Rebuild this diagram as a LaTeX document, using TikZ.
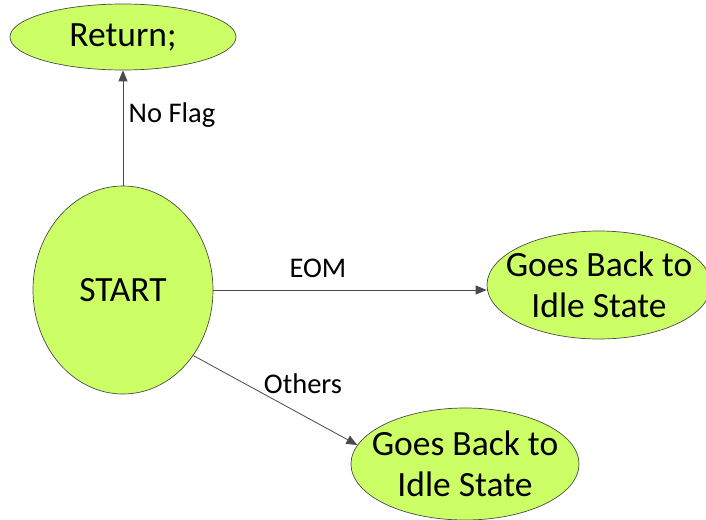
\documentclass[tikz,border=0pt]{standalone}
\usepackage{fontspec}
\setmainfont{Carlito}
\usetikzlibrary{shapes.geometric,arrows.meta}
\definecolor{statefill}{HTML}{CCFF66}
\definecolor{edgegray}{HTML}{4A4A4A}
\tikzset{
  state/.style={ellipse, draw=edgegray, line width=0.7pt, fill=statefill,
    inner sep=0pt},
  statetext/.style={align=center, inner sep=0pt,
    font=\fontsize{35.5}{41}\selectfont},
  link/.style={draw=edgegray, line width=0.8pt,
    -{Triangle[length=11pt,width=9pt]}},
  tag/.style={font=\fontsize{28.5}{32}\selectfont, inner sep=0pt}
}
\begin{document}
\begin{tikzpicture}[x=1pt,y=-1pt]
  \useasboundingbox (0,0) rectangle (706,519);
  % states: fixed-size ellipses, text set in the centre
  \node[state, minimum width=226pt, minimum height=66pt,
        label={[statetext]center:Return;}] (ret) at (123,37) {};
  \node[state, minimum width=180pt, minimum height=208pt,
        label={[statetext]center:START}] (start) at (123,290) {};
  \node[state, minimum width=224pt, minimum height=108pt,
        label={[statetext]center:Goes Back to\\Idle State}] (idleA) at (599,285) {};
  \node[state, minimum width=228pt, minimum height=112pt,
        label={[statetext]center:Goes Back to\\Idle State}] (idleB) at (465,464) {};
  % transitions
  \draw[link] (start.north) -- (ret.south);
  \draw[link] (start.east) -- (start.east -| idleA.west);
  \draw[link] (start.-43.7) -- (idleB.170);
  % transition labels
  \node[tag] (nf) at (172,115) {No Flag};
  \node[tag] (eom) at (318,268) {EOM};
  \node[tag] (oth) at (303,384) {Others};
\end{tikzpicture}
\end{document}
